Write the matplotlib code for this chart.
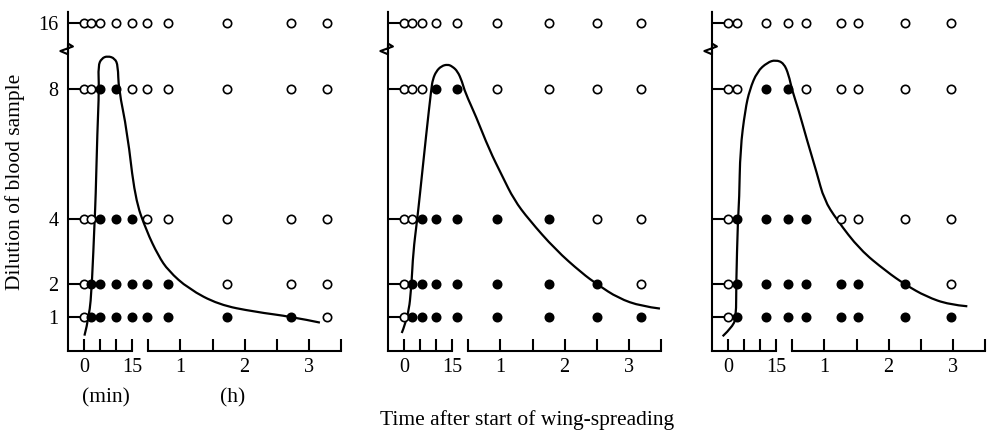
import numpy as np
import matplotlib.pyplot as plt
from matplotlib.path import Path
from matplotlib.patches import PathPatch

plt.rcParams['font.family'] = ['Liberation Serif', 'DejaVu Serif']
plt.rcParams['font.size'] = 14.5

# dilution rows (16 sits above a break in the axis)
dilutions = [1, 2, 4, 8, 16]

# sampling times in hours; 1 = filled dot, 0 = open circle
times_a = [0, 0.037, 0.083, 0.167, 0.25, 0.48, 0.81, 1.73, 2.72, 3.28]
filled_a = [
    [0, 1, 1, 1, 1, 1, 1, 1, 1, 0],
    [0, 1, 1, 1, 1, 1, 1, 0, 0, 0],
    [0, 0, 1, 1, 1, 0, 0, 0, 0, 0],
    [0, 0, 1, 1, 0, 0, 0, 0, 0, 0],
    [0, 0, 0, 0, 0, 0, 0, 0, 0, 0],
]
curve_a_t = [0.002, 0.027, 0.041, 0.055, 0.060, 0.069, 0.078, 0.073, 0.091, 0.122,
             0.160, 0.176, 0.179, 0.224, 0.294, 0.47, 0.656, 0.8125, 1.125, 1.594,
             2.156, 2.734, 3.172]
curve_a_v = [0.42, 1.0, 1.98, 3.98, 4.62, 6.68, 8.0, 10.8, 11.7, 12.0,
             11.7, 10.8, 8.0, 6.68, 4.62, 3.64, 2.87, 2.41, 1.86, 1.37,
             1.15, 1.0, 0.82]

times_b = [0, 0.04, 0.092, 0.168, 0.33, 0.95, 1.75, 2.51, 3.19]
filled_b = [
    [0, 1, 1, 1, 1, 1, 1, 1, 1],
    [0, 1, 1, 1, 1, 1, 1, 1, 0],
    [0, 0, 1, 1, 1, 1, 1, 0, 0],
    [0, 0, 0, 1, 1, 0, 0, 0, 0],
    [0, 0, 0, 0, 0, 0, 0, 0, 0],
]
curve_b_t = [-0.012, 0.022, 0.039, 0.047, 0.068, 0.080, 0.116, 0.141, 0.149, 0.167,
             0.194, 0.226, 0.25, 0.333, 0.402, 0.453, 0.619, 0.825, 1.030, 1.211,
             1.443, 1.856, 2.267, 2.515, 2.835, 3.195, 3.484]
curve_b_v = [0.50, 1.01, 1.98, 2.96, 3.98, 4.62, 6.65, 7.97, 9.12, 10.12,
             10.76, 10.96, 10.72, 10.12, 8.88, 7.87, 7.15, 6.13, 5.31, 4.59,
             3.98, 3.06, 2.34, 1.98, 1.57, 1.32, 1.25]

times_c = [0, 0.045, 0.198, 0.44, 0.72, 1.26, 1.52, 2.26, 2.97]
filled_c = [
    [0, 1, 1, 1, 1, 1, 1, 1, 1],
    [0, 1, 1, 1, 1, 1, 1, 1, 0],
    [0, 1, 1, 1, 1, 0, 0, 0, 0],
    [0, 0, 1, 1, 0, 0, 0, 0, 0],
    [0, 0, 0, 0, 0, 0, 0, 0, 0],
]
curve_c_t = [-0.028, 0.025, 0.042, 0.042, 0.051, 0.058, 0.063, 0.089, 0.112, 0.151,
             0.204, 0.247, 0.368, 0.444, 0.495, 0.597, 0.727, 0.882, 0.995, 1.191,
             1.551, 1.964, 2.262, 2.582, 2.942, 3.225]
curve_c_v = [0.40, 0.70, 1.01, 1.98, 3.98, 4.59, 6.12, 7.35, 7.96, 10.08,
             11.2, 11.52, 11.12, 9.68, 7.96, 7.35, 6.43, 5.41, 4.59, 3.98,
             3.06, 2.39, 1.98, 1.62, 1.37, 1.32]

xticks = [0, 5 / 60, 10 / 60, 0.25, 0.5, 1, 1.5, 2, 2.5, 3, 3.5]
xticklabels = ['0', '', '', '15', '', '1', '', '2', '', '3', '']


# broken time axis: minutes stretched x3 up to 15 min, hours after
def fwd_x(t):
    t = np.asarray(t, dtype=float)
    return np.where(t <= 0.25, 3 * t, t + 0.5)


def inv_x(u):
    u = np.asarray(u, dtype=float)
    return np.where(u <= 0.75, u / 3, u - 0.5)


# break on the dilution axis: 8 -> 16 squeezed
def fwd_y(v):
    v = np.asarray(v, dtype=float)
    return np.where(v <= 8, v, 8 + (v - 8) / 4)


def inv_y(d):
    d = np.asarray(d, dtype=float)
    return np.where(d <= 8, d, 8 + (d - 8) * 4)


def hand_curve(ts, vs):
    # quadratic bezier through the midpoints, read points act as control points
    u = fwd_x(ts)
    d = fwd_y(vs)
    verts = [(u[0], d[0])]
    codes = [Path.MOVETO]
    n = len(u)
    for k in range(1, n - 1):
        verts.append((u[k], d[k]))
        if k < n - 2:
            verts.append(((u[k] + u[k + 1]) / 2, (d[k] + d[k + 1]) / 2))
        else:
            verts.append((u[k + 1], d[k + 1]))
        codes += [Path.CURVE3, Path.CURVE3]
    verts = np.array(verts)
    verts = np.column_stack([inv_x(verts[:, 0]), inv_y(verts[:, 1])])
    return Path(verts, codes)


fig = plt.figure(figsize=(9.92, 4.42), dpi=100)
lefts = [68 / 992, 388 / 992, 712 / 992]
panels = [
    (times_a, filled_a, curve_a_t, curve_a_v),
    (times_b, filled_b, curve_b_t, curve_b_v),
    (times_c, filled_c, curve_c_t, curve_c_v),
]

ylo, yhi = -0.05, 10.35  # in squeezed units

for i, (times, filled, ct, cv) in enumerate(panels):
    ax = fig.add_axes([lefts[i], 0.206, 273 / 992, 0.767])
    ax.set_xscale('function', functions=(fwd_x, inv_x))
    ax.set_yscale('function', functions=(fwd_y, inv_y))

    ax.add_patch(PathPatch(hand_curve(ct, cv), fill=False, edgecolor='black',
                           lw=1.6, zorder=2))

    for d, row in zip(dilutions, filled):
        for t, f in zip(times, row):
            ax.plot(t, d, 'o', ms=6, mew=1.2, mec='black',
                    mfc='black' if f else 'white', zorder=3)

    ax.set_xlim(-1 / 12, 3.5)
    ax.set_ylim(float(inv_y(ylo)), float(inv_y(yhi)))

    for s in ax.spines.values():
        s.set_visible(False)

    # y axis with zigzag break
    yd = np.array([ylo, 9.38, 9.29, 9.15, 9.05, yhi])
    ax.plot([0, 0, 0.018, -0.028, 0, 0], (yd - ylo) / (yhi - ylo),
            transform=ax.transAxes, color='black', lw=1.5, clip_on=False)
    # x axis in two pieces
    xtr = ax.get_xaxis_transform()
    ax.plot([-1 / 12, 0.25], [0, 0], transform=xtr, color='black', lw=1.5, clip_on=False)
    ax.plot([0.5, 3.5], [0, 0], transform=xtr, color='black', lw=1.5, clip_on=False)

    ax.set_xticks(xticks)
    ax.set_xticklabels(xticklabels)
    ax.set_xticks([], minor=True)
    ax.set_yticks(dilutions)
    ax.set_yticks([], minor=True)
    if i == 0:
        ax.set_yticklabels([str(d) for d in dilutions])
    else:
        ax.set_yticklabels([])
    ax.tick_params(axis='both', direction='in', length=8.5, width=1.5)
    ax.tick_params(axis='x', pad=5)
    ax.tick_params(axis='y', pad=7)

fig.text(15 / 992, 1 - 182 / 442, 'Dilution of blood sample', rotation=90,
         ha='center', va='center', fontsize=15.5)
fig.text(106 / 992, 1 - 398 / 442, '(min)', ha='center', va='center', fontsize=15.5)
fig.text(233 / 992, 1 - 398 / 442, '(h)', ha='center', va='center', fontsize=15.5)
fig.text(527 / 992, 1 - 420 / 442, 'Time after start of wing-spreading',
         ha='center', va='center', fontsize=15.5)

plt.savefig('out.png', dpi=100)
